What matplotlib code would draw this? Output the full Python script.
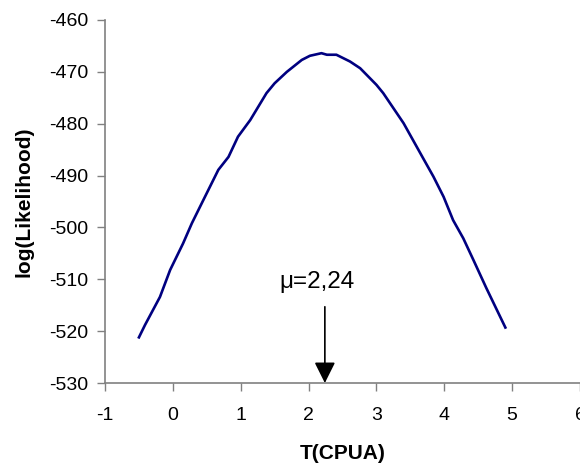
import matplotlib.pyplot as plt

plt.rcParams['font.family'] = ['Liberation Sans', 'DejaVu Sans']
plt.rcParams['axes.unicode_minus'] = False

# log-likelihood profile
t_values = [-0.5, -0.41, -0.19, -0.04, 0.15, 0.28, 0.45, 0.67, 0.82, 0.96, 1.14,
            1.38, 1.5, 1.68, 1.9, 2.02, 2.19, 2.27, 2.41, 2.61, 2.76, 3.0, 3.1,
            3.4, 3.69, 3.84, 3.99, 4.13, 4.28, 4.43, 4.62, 4.9]
loglik = [-521.2, -518.8, -513.4, -508.2, -503.1, -499.2, -494.7, -488.9, -486.4,
          -482.5, -479.3, -474.1, -472.2, -470.0, -467.7, -466.9, -466.4, -466.7,
          -466.7, -468.0, -469.3, -472.5, -474.1, -479.9, -486.7, -490.2, -494.1,
          -498.6, -502.1, -506.3, -511.7, -519.3]
mu = 2.24
mu_label = 'μ=2,24'

fig = plt.figure(figsize=(5.8, 4.66), dpi=100)
ax = fig.add_axes([105 / 580, 1 - 383 / 466, 475 / 580, 363 / 466])

ax.plot(t_values, loglik, color='#000080', linewidth=1.9)

ax.set_xlim(-1, 6)
ax.set_ylim(-530, -460)
ax.set_xticks(range(-1, 7))
ax.set_yticks(range(-530, -459, 10))

for side in ['top', 'right']:
    ax.spines[side].set_visible(False)
for side in ['left', 'bottom']:
    ax.spines[side].set_color('#808080')
    ax.spines[side].set_linewidth(1.2)
ax.tick_params(direction='out', length=6, width=1, color='#808080',
               labelsize=14)
ax.tick_params(axis='x', pad=11)
ax.tick_params(axis='y', pad=6)

ax.annotate('', xy=(mu, -530), xytext=(mu, -515.3),
            arrowprops=dict(arrowstyle='-|>', color='black', lw=1.2,
                            mutation_scale=32, shrinkA=0, shrinkB=0))
ax.text(2.12, -510.5, mu_label, ha='center', va='center', fontsize=17.5)

ax.set_xlabel('T(CPUA)', fontsize=15, fontweight='bold', labelpad=15)
ax.set_ylabel('log(Likelihood)', fontsize=15, fontweight='bold', labelpad=11)

fig.savefig('out.png', dpi=100)
